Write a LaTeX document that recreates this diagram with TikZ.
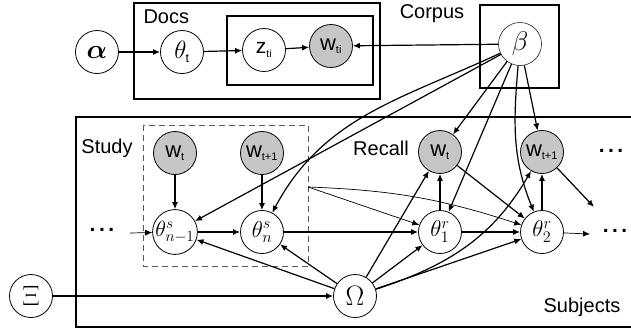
\RequirePackage{fix-cm}
\documentclass[tikz,border=0pt]{standalone}
\usepackage{amsmath,bm}
\usepackage{fontspec}
\setsansfont{Liberation Sans}
\usepackage{tikz}
\usetikzlibrary{arrows.meta}

\newcommand{\wvar}[1]{$\textsf{w}_{\scriptscriptstyle\textsf{#1}}$}
\newcommand{\fsz}[1]{\fontsize{#1}{#1}\selectfont}

\begin{document}
\begin{tikzpicture}[x=1pt,y=-1pt,>={Latex[length=7pt,width=6pt]},
    var/.style={circle,draw,line width=0.8pt,minimum size=43pt,inner sep=0pt,font=\fsz{21}},
    obs/.style={var,fill=gray!45,font=\fsz{22}},
    lbl/.style={font=\sffamily\fsz{20}},
    arr/.style={->,line width=1.2pt},
    tarr/.style={->,line width=0.7pt},
    dots/.style={font=\sffamily\bfseries\fsz{21}}]
    \useasboundingbox (0,0) rectangle (631,333);

    % plates
    \draw [line width=1.1pt] (134,3) rectangle (380,99);
    \draw [line width=1.8pt] (227,16) rectangle (373,85);
    \draw [line width=2.8pt] (480,5) rectangle (559,88);
    \draw [line width=1.4pt] (640,117) -| (76,327) -- (640,327);
    \draw [gray!70!black,line width=0.9pt,dash pattern=on 6pt off 4pt] (143,125) rectangle (308,266);
    \node [lbl,anchor=west] (docs) at (140,17) {Docs};
    \node [lbl] (corpus) at (432,14) {Corpus};
    \node [lbl] (study) at (107,148) {Study};
    \node [lbl] (recall) at (381,148) {Recall};
    \node [lbl] (subjects) at (582,307) {Subjects};

    % top row
    \node [var,font=\fsz{27}] (alpha) at (97,52) {$\bm{\alpha}$};
    \node [var,font=\fsz{25}] (thetat) at (182,52) {$\theta_{\scriptscriptstyle\textsf{t}}$};
    \node [var] (z) at (264,50) {$\textsf{z}_{\scriptscriptstyle\textsf{ti}}$};
    \node [obs] (wti) at (331,46) {\wvar{ti}};
    \node [var,line width=0.5pt,font=\fsz{27}] (beta) at (520,44) {$\beta$};

    % study
    \node [obs] (ws1) at (175,153) {\wvar{t}};
    \node [obs] (ws2) at (262,153) {\wvar{t+1}};
    \node [var,font=\fsz{22}] (ts1) at (175,232) {$\theta^s_{n-1}$};
    \node [var,font=\fsz{23}] (ts2) at (262,232) {$\theta^s_n$};

    % recall
    \node [obs] (wr1) at (440,152) {\wvar{t}};
    \node [obs] (wr2) at (542,152) {\wvar{t+1}};
    \node [var,font=\fsz{23}] (tr1) at (440,232) {$\theta^r_1$};
    \node [var,font=\fsz{23}] (tr2) at (542,232) {$\theta^r_2$};

    \node [var,font=\fsz{28}] (omega) at (355,296) {$\Omega$};
    \node [var,font=\fsz{28}] (xi) at (31,296) {$\Xi$};

    \node [dots] (dl) at (102,230) {.\,.\,.};
    \node [dots] (dtr) at (611,151) {.\,.\,.};
    \node [dots] (dr) at (615,231) {.\,.\,.};
    \coordinate (cin) at (130,233);
    \coordinate (cout) at (590,234);
    \coordinate (cw) at (594,207);
    \coordinate (cdash) at (308,187);

    \draw [arr] (alpha) -- (thetat);
    \draw [arr] (thetat) -- (z);
    \draw [arr] (z) -- (wti);
    \draw [arr] (beta) -- (wti);

    \draw [arr] (beta) -- (ts1);
    \draw [arr] (beta) to[out=205,in=62] (ts2);
    \draw [arr] (beta) -- (wr1);
    \draw [arr] (beta) -- (tr1);
    \draw [arr] (beta) to[out=-95,in=112] (tr2);
    \draw [arr] (beta) -- (wr2);

    \draw [arr] (ws1) -- (ts1);
    \draw [arr] (ws2) -- (ts2);
    \draw [arr] (ts1) -- (ts2);
    \draw [arr] (ts2) -- (tr1);
    \draw [arr] (tr1) -- (tr2);
    \draw [arr] (tr1) -- (wr1);
    \draw [arr] (tr2) -- (wr2);
    \draw [arr] (wr1) -- (tr2);
    \draw [arr] (wr2) -- (cw);
    \draw [tarr] (tr2) -- (cout);
    \draw [tarr] (cin) -- (ts1);
    \draw [tarr] (cdash) -- (tr1);
    \draw [tarr] (cdash) to[bend left=8] (tr2);

    \draw [arr] (omega) -- (ts1);
    \draw [arr] (omega) -- (ts2);
    \draw [arr] (omega) -- (wr1);
    \draw [arr] (omega) -- (tr1);
    \draw [arr] (omega) to[out=18,in=240] (wr2);
    \draw [arr] (omega) -- (tr2);
    \draw [arr] (xi) -- (omega);
\end{tikzpicture}
\end{document}
